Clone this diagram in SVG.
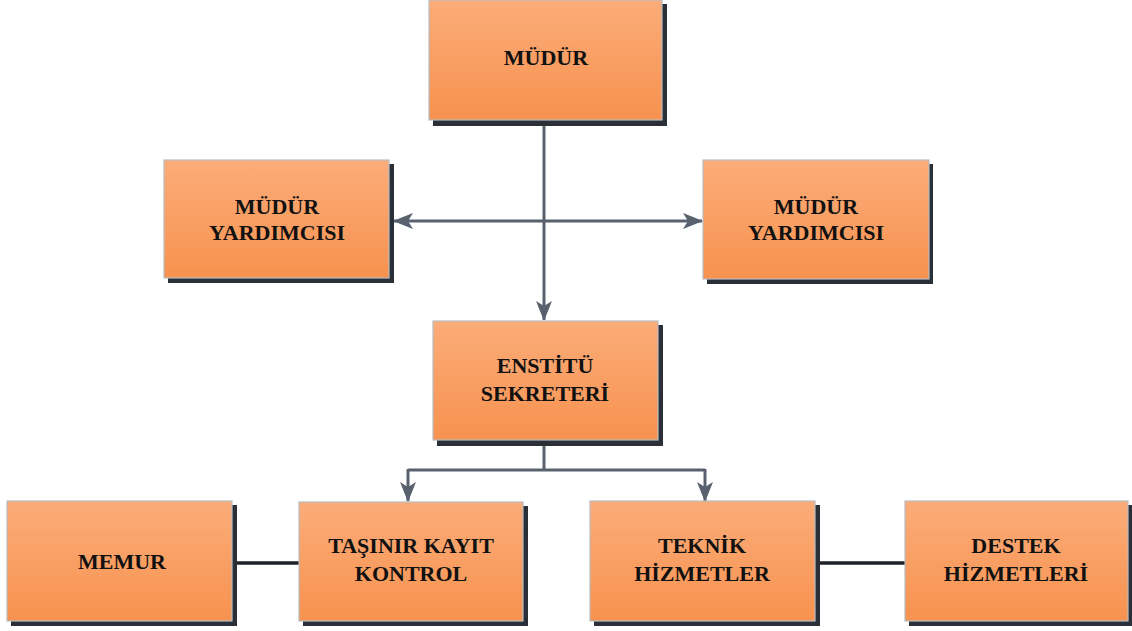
<svg xmlns="http://www.w3.org/2000/svg" width="1132" height="631" viewBox="0 0 1132 631">
<defs>
<linearGradient id="g" x1="0" y1="0" x2="0" y2="1">
<stop offset="0" stop-color="#FBAC79"/>
<stop offset="1" stop-color="#F7924F"/>
</linearGradient>
<marker id="ah" viewBox="0 0 20 16" refX="19" refY="8" markerWidth="20" markerHeight="16" markerUnits="userSpaceOnUse" orient="auto-start-reverse">
<path d="M0,0 L20,8 L0,16 L5,8 Z" fill="#59606E"/>
</marker>
<style>
.box{fill:url(#g);stroke:#B8BCC2;stroke-width:1.2}
.sh{fill:#2B3038}
.t{font-family:"Liberation Serif",serif;font-weight:bold;font-size:22px;fill:#111;text-anchor:middle}
.c{fill:none;stroke:#59606E;stroke-width:3}
.k{fill:none;stroke:#1F2329;stroke-width:3.5}
</style>
</defs>
<rect width="1132" height="631" fill="#fff"/>
<g id="connectors">
<line class="c" x1="544" y1="120" x2="544" y2="320" marker-end="url(#ah)"/>
<line class="c" x1="394" y1="221" x2="702" y2="221" marker-start="url(#ah)" marker-end="url(#ah)"/>
<path class="c" d="M544,441 V470 M408,470 H705"/>
<line class="c" x1="408" y1="469" x2="408" y2="501" marker-end="url(#ah)"/>
<line class="c" x1="705" y1="469" x2="705" y2="501" marker-end="url(#ah)"/>
<line class="k" x1="236" y1="563" x2="299" y2="563"/>
<line class="k" x1="819" y1="563" x2="905" y2="563"/>
</g>
<g id="mudur">
<rect class="sh" x="433" y="4" width="234" height="122"/>
<rect class="box" x="429" y="0" width="233" height="120"/>
<text class="t" x="546" y="65">MÜDÜR</text>
</g>
<g id="yardimci-sol">
<rect class="sh" x="168" y="164" width="226" height="119"/>
<rect class="box" x="164" y="160" width="225" height="118"/>
<text class="t" x="277" y="214">MÜDÜR</text>
<text class="t" x="277" y="240">YARDIMCISI</text>
</g>
<g id="yardimci-sag">
<rect class="sh" x="707" y="164" width="226" height="120"/>
<rect class="box" x="703" y="160" width="226" height="119"/>
<text class="t" x="816" y="214">MÜDÜR</text>
<text class="t" x="816" y="240">YARDIMCISI</text>
</g>
<g id="enstitu">
<rect class="sh" x="437" y="325" width="226" height="121"/>
<rect class="box" x="433" y="321" width="225" height="119"/>
<text class="t" x="545" y="373">ENSTİTÜ</text>
<text class="t" x="545" y="401">SEKRETERİ</text>
</g>
<g id="memur">
<rect class="sh" x="11" y="505" width="226" height="121"/>
<rect class="box" x="7" y="501" width="225" height="120"/>
<text class="t" x="122" y="569">MEMUR</text>
</g>
<g id="tasinir">
<rect class="sh" x="303" y="506" width="225" height="120"/>
<rect class="box" x="299" y="502" width="224" height="119"/>
<text class="t" x="411" y="553">TAŞINIR KAYIT</text>
<text class="t" x="411" y="581">KONTROL</text>
</g>
<g id="teknik">
<rect class="sh" x="594" y="505" width="226" height="121"/>
<rect class="box" x="590" y="501" width="225" height="120"/>
<text class="t" x="702" y="553">TEKNİK</text>
<text class="t" x="702" y="581">HİZMETLER</text>
</g>
<g id="destek">
<rect class="sh" x="909" y="505" width="223" height="121"/>
<rect class="box" x="905" y="501" width="223" height="120"/>
<text class="t" x="1016" y="553">DESTEK</text>
<text class="t" x="1016" y="581">HİZMETLERİ</text>
</g>
</svg>
